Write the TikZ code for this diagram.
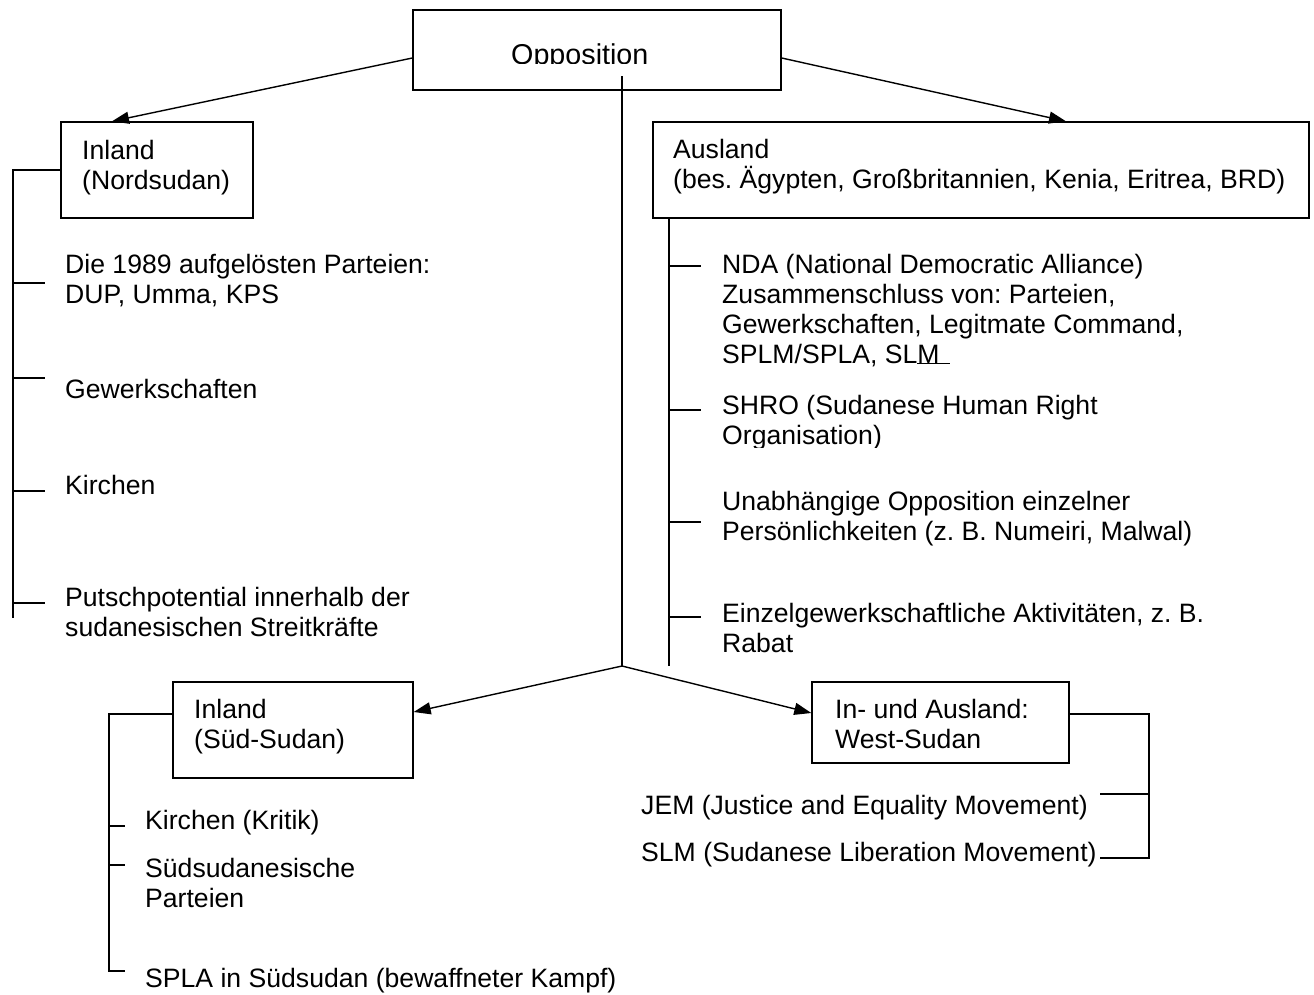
\documentclass[tikz,border=0pt]{standalone}
\usepackage{fontspec}
\setmainfont{Liberation Sans}
\usetikzlibrary{arrows.meta}
\begin{document}
\frenchspacing
\begin{tikzpicture}[x=1pt,y=-1pt,
  box/.style={draw, line width=1.4pt, inner sep=0pt},
  txt/.style={anchor=base west, inner sep=0pt, align=left, font=\fontsize{26.6}{30}\selectfont},
  conn/.style={line width=1.4pt},
  arr/.style={conn, -{Triangle[length=17pt,width=12pt]}}]
\useasboundingbox (0,0) rectangle (1314,994);
% boxes
\node[box, minimum width=368pt, minimum height=80pt] (opp) at (597,50) {};
\node[box, minimum width=192pt, minimum height=96pt] (inlN) at (157,170) {};
\node[box, minimum width=656pt, minimum height=96pt] (ausl) at (981,170) {};
\node[box, minimum width=240pt, minimum height=96pt] (inlS) at (293,730) {};
\node[box, minimum width=257pt, minimum height=81pt] (west) at (940.5,722.5) {};
% box texts
\begin{scope}
\clip (413,10) rectangle (781,63.5);
\node[txt, font=\fontsize{28.7}{32}\selectfont] (toppos) at (511,64) {Opposition};
\end{scope}
\node[txt] (tinlN) at (82,189) {Inland\\(Nordsudan)};
\node[txt] (tausl) at (673,188) {Ausland\\(bes. Ägypten, Großbritannien, Kenia, Eritrea, BRD)};
\node[txt] (tinlS) at (194,748) {Inland\\(Süd-Sudan)};
\node[txt] (twest) at (835,748) {In- und Ausland:\\West-Sudan};
% main connectors
\coordinate (j) at (622,666);
\draw[arr] ([yshift=-8pt]opp.west) -- ([xshift=-45pt]inlN.north);
\draw[arr] ([yshift=-8pt]opp.east) -- ([xshift=85pt]ausl.north);
\draw[conn] ([xshift=25pt,yshift=-26pt]opp.center) -- (j);
\draw[arr] (j) -- ([yshift=18pt]inlS.east);
\draw[arr] (j) -- ([yshift=9.5pt]west.west);
% left bracket (Nordsudan)
\coordinate (bN) at (13,618);
\coordinate (tN1) at (45,283);
\coordinate (tN2) at (45,378);
\coordinate (tN3) at (45,491);
\coordinate (tN4) at (45,603);
\draw[conn] (inlN.west) -| (bN);
\foreach \t in {tN1,tN2,tN3,tN4} \draw[conn] (\t -| bN) -- (\t);
\node[txt] (n1) at (65,303) {Die 1989 aufgelösten Parteien:\\DUP, Umma, KPS};
\node[txt] (n2) at (65,398) {Gewerkschaften};
\node[txt] (n3) at (65,494) {Kirchen};
\node[txt] (n4) at (65,636) {Putschpotential innerhalb der\\sudanesischen Streitkräfte};
% right bracket (Ausland)
\coordinate (bA) at (669,666);
\coordinate (tA1) at (701,266);
\coordinate (tA2) at (701,410);
\coordinate (tA3) at (701,522);
\coordinate (tA4) at (701,617);
\draw[conn] (ausl.south -| bA) -- (bA);
\foreach \t in {tA1,tA2,tA3,tA4} \draw[conn] (\t -| bA) -- (\t);
\node[txt] (a1) at (722,363) {NDA (National Democratic Alliance)\\Zusammenschluss von: Parteien,\\Gewerkschaften, Legitmate Command,\\SPLM/SPLA, SL\rlap{\rule[-1pt]{33pt}{1.3pt}}M};
\begin{scope}
\clip (700,380) rectangle (1300,447);
\node[txt] (a2) at (722,444) {SHRO (Sudanese Human Right\\Organisation)};
\end{scope}
\node[txt] (a3) at (722,540) {Unabhängige Opposition einzelner\\Persönlichkeiten (z. B. Numeiri, Malwal)};
\node[txt] (a4) at (722,652) {Einzelgewerkschaftliche Aktivitäten, z. B.\\Rabat};
% bracket (Süd-Sudan)
\coordinate (bS) at (109,971);
\coordinate (tS1) at (125,826);
\coordinate (tS2) at (125,865);
\coordinate (tS3) at (125,971);
\draw[conn] ([yshift=16pt]inlS.west) -| (bS) -- (tS3);
\foreach \t in {tS1,tS2} \draw[conn] (\t -| bS) -- (\t);
\node[txt] (s1) at (145,829) {Kirchen (Kritik)};
\node[txt] (s2) at (145,907) {Südsudanesische\\Parteien};
\node[txt] (s3) at (145,987) {SPLA in Südsudan (bewaffneter Kampf)};
% bracket (West-Sudan)
\coordinate (bW) at (1149,858);
\coordinate (tW1) at (1100,794);
\coordinate (tW2) at (1100,858);
\draw[conn] ([yshift=8.5pt]west.east) -| (bW) -- (tW2);
\draw[conn] (tW1 -| bW) -- (tW1);
\node[txt] (w1) at (641,814) {JEM (Justice and Equality Movement)};
\node[txt] (w2) at (641,861) {SLM (Sudanese Liberation Movement)};
\end{tikzpicture}
\end{document}
